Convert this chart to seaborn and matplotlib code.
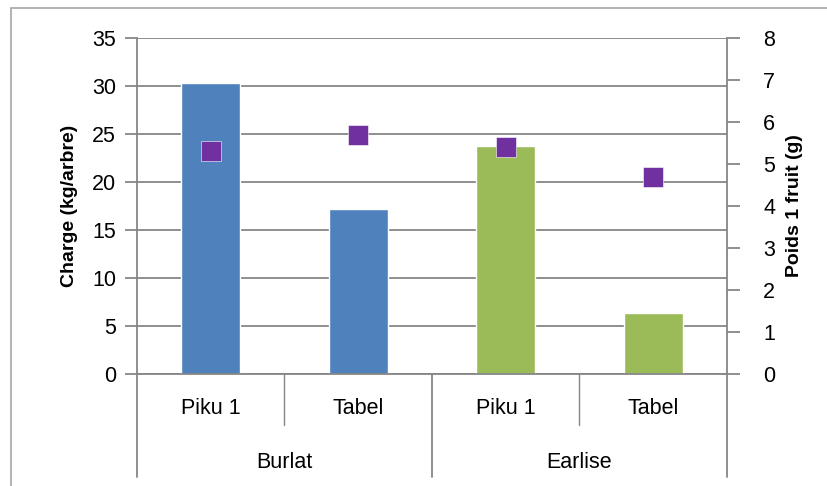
import numpy as np
import pandas as pd
import matplotlib
matplotlib.use('Agg')
import matplotlib.pyplot as plt
import matplotlib.transforms as mtransforms
from matplotlib.patches import Rectangle
import seaborn as sns

sns.set_style('white')
plt.rcParams['font.family'] = ['Liberation Sans', 'DejaVu Sans']
plt.rcParams['text.color'] = 'black'
plt.rcParams['axes.labelcolor'] = 'black'
plt.rcParams['ytick.labelcolor'] = 'black'

varieties = ['Burlat', 'Burlat', 'Earlise', 'Earlise']
rootstocks = ['Piku 1', 'Tabel', 'Piku 1', 'Tabel']
charge = [30.3, 17.2, 23.8, 6.4]          # kg/arbre, left axis
fruit_weight = [5.3, 5.7, 5.4, 4.7]       # g, right axis
group_names = ['Burlat', 'Earlise']

grid_grey = '#868686'
bar_colours = {'Burlat': '#4F81BD', 'Earlise': '#9BBB59'}
marker_colour = '#7030A0'

df = pd.DataFrame({
    'pos': np.arange(len(charge)),
    'Variety': varieties,
    'Rootstock': rootstocks,
    'Charge': charge,
    'Poids': fruit_weight,
})

W, H = 828, 486
fig = plt.figure(figsize=(W / 100, H / 100), dpi=100)
left, right, top, bottom = 137, 727, 38, 374
ax = fig.add_axes([left / W, 1 - bottom / H, (right - left) / W, (bottom - top) / H])

sns.barplot(data=df, x='pos', y='Charge', hue='Variety', palette=bar_colours,
            dodge=False, width=0.4, legend=False, ax=ax, native_scale=True,
            saturation=1)
ax.set_xlim(-0.5, 3.5)
ax.set_ylim(0, 35)
ax.set_yticks(np.arange(0, 36, 5))
ax.yaxis.grid(True, color=grid_grey, linewidth=1.3)
ax.set_axisbelow(True)
for s in ['top', 'bottom']:
    ax.spines[s].set_visible(False)
ax.spines['left'].set_color(grid_grey)
ax.spines['left'].set_linewidth(1.3)
ax.spines['right'].set_visible(False)
ax.tick_params(axis='y', direction='out', length=9, width=1.3, color=grid_grey,
               labelsize=15.5, pad=6, left=True, labelcolor='black')
ax.set_xticks([])
ax.set_xlabel('')
ax.set_ylabel('Charge (kg/arbre)', fontsize=14, fontweight='bold', labelpad=10)

ax2 = ax.twinx()
sns.scatterplot(data=df, x='pos', y='Poids', marker='s', s=200, color=marker_colour,
                edgecolor='white', linewidth=0.4, ax=ax2, zorder=5)
ax2.set_ylim(0, 8)
ax2.set_yticks(np.arange(0, 9, 1))
for s in ['top', 'bottom', 'left']:
    ax2.spines[s].set_visible(False)
ax2.spines['right'].set_color(grid_grey)
ax2.spines['right'].set_linewidth(1.3)
ax2.tick_params(axis='y', direction='out', length=9, width=1.3, color=grid_grey,
                labelsize=15.5, pad=17, right=True, labelcolor='black')
ax2.set_xlabel('')
ax2.set_ylabel('Poids 1 fruit (g)', fontsize=14, fontweight='bold', labelpad=8)
ax2.set_xlim(-0.5, 3.5)

# category axis with two levels
ph = bottom - top
trans = mtransforms.blended_transform_factory(ax.transData, ax.transAxes)
ax.plot([-0.5, 3.5], [0, 0], color=grid_grey, lw=1.3, transform=trans, clip_on=False)
for i in range(len(rootstocks) + 1):
    x = i - 0.5
    long_div = i % 2 == 0
    y_end = -(103 if long_div else 51) / ph
    ax.plot([x, x], [0, y_end], color=grid_grey, lw=1.3 if long_div else 1.0,
            transform=trans, clip_on=False)
for i, name in enumerate(rootstocks):
    ax.text(i, -34 / ph, name, transform=trans, ha='center', va='center', fontsize=15.5)
for g, name in enumerate(group_names):
    ax.text(2 * g + 0.5, -88 / ph, name, transform=trans, ha='center', va='center', fontsize=15.5)

# chart area border
fig.patches.append(Rectangle((11 / W, -0.1), 1.1, 1 - 8.5 / H + 0.1, transform=fig.transFigure,
                             fill=False, edgecolor='#A6A6A6', lw=1.2))

fig.savefig('out.png', dpi=100)
